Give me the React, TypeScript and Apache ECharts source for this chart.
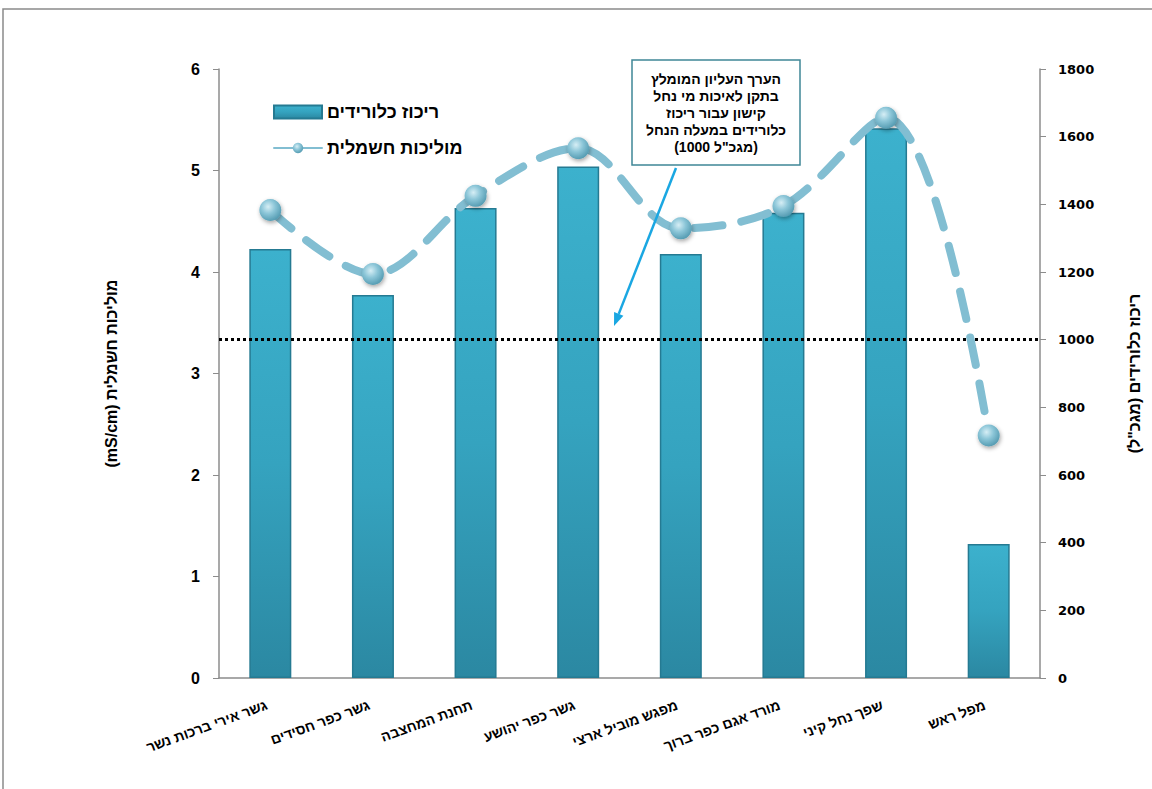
import React, { useEffect, useRef } from "react";
import * as echarts from "echarts";

const categories = [
  "גשר אירי ברכות נשר",
  "גשר כפר חסידים",
  "תחנת המחצבה",
  "גשר כפר יהושע",
  "מפגש מוביל ארצי",
  "מורד אגם כפר ברוך",
  "שפך נחל קיני",
  "מפל ראש",
];
const chloride = [1268, 1132, 1389, 1512, 1253, 1375, 1625, 396];
const conductivity = [4.61, 3.98, 4.75, 5.22, 4.43, 4.65, 5.52, 2.39];
const chlorideLimit = 1000;
const noteLines = [
  "הערך העליון המומלץ",
  "בתקן לאיכות מי נחל",
  "קישון עבור ריכוז",
  "כלורידים במעלה הנחל",
  '\u202A(1000 מגכ"ל)\u202C',
];
const leftTitle = "\u202Bמוליכות חשמלית (mS/cm)\u202C";
const rightTitle = '\u202Bריכוז כלורידים (מגכ"ל)\u202C';

export default function App() {
  const ref = useRef<HTMLDivElement>(null);
  useEffect(() => {
    document.body.style.margin = "0";
    const chart = echarts.init(ref.current!, null, { renderer: "svg" });
    const font = "Arial, 'Liberation Sans', sans-serif";
    // arrow geometry
    const x1 = 676, y1 = 168, x2 = 614, y2 = 326;
    const dx = x2 - x1, dy = y2 - y1;
    const len = Math.sqrt(dx * dx + dy * dy);
    const ux = dx / len, uy = dy / len;
    const bx = x2 - ux * 13, by = y2 - uy * 13;
    const px = -uy * 5, py = ux * 5;
    chart.setOption({
      animation: false,
      backgroundColor: "#ffffff",
      textStyle: { fontFamily: font },
      grid: { left: 219, right: 112, top: 69, bottom: 111 },
      legend: {
        orient: "vertical",
        left: 268,
        top: 98,
        itemWidth: 48,
        itemHeight: 13,
        itemGap: 18,
        textStyle: { fontSize: 18, fontWeight: "bold", color: "#000", fontFamily: font },
        data: [
          { name: "ריכוז כלורידים", icon: "rect" },
          { name: "מוליכות חשמלית", lineStyle: { type: "solid" } },
        ],
      },
      xAxis: {
        type: "category",
        data: categories,
        axisLine: { lineStyle: { color: "#8c8c8c", width: 1.5 } },
        axisTick: { length: 6, lineStyle: { color: "#8c8c8c" } },
        axisLabel: {
          rotate: 20,
          interval: 0,
          fontSize: 14,
          fontWeight: "bold",
          color: "#000",
          margin: 25,
          padding: [0, 4, 0, 0],
          fontFamily: font,
        },
      },
      yAxis: [
        {
          type: "value",
          min: 0,
          max: 6,
          interval: 1,
          position: "left",
          name: leftTitle,
          nameLocation: "middle",
          nameRotate: 90,
          nameGap: 100,
          nameTextStyle: { fontSize: 16, fontWeight: "bold", color: "#000", fontFamily: font },
          axisLine: { show: true, lineStyle: { color: "#8c8c8c", width: 1.5 } },
          axisTick: { show: true, length: 6, lineStyle: { color: "#8c8c8c" } },
          splitLine: { show: false },
          axisLabel: { fontSize: 16, fontWeight: "bold", color: "#000", margin: 19, fontFamily: font },
        },
        {
          type: "value",
          min: 0,
          max: 1800,
          interval: 200,
          position: "right",
          name: rightTitle,
          nameLocation: "middle",
          nameRotate: 90,
          nameGap: 86,
          nameTextStyle: { fontSize: 16, fontWeight: "bold", color: "#000", fontFamily: font },
          axisLine: { show: true, lineStyle: { color: "#8c8c8c", width: 1.5 } },
          axisTick: { show: true, length: 6, lineStyle: { color: "#8c8c8c" } },
          splitLine: { show: false },
          axisLabel: {
            fontSize: 13,
            fontWeight: "bold",
            color: "#000",
            margin: 18,
            formatter: (v: number) => String(v),
            fontFamily: "'DejaVu Sans', Verdana, sans-serif",
          },
        },
      ],
      series: [
        {
          name: "ריכוז כלורידים",
          type: "bar",
          yAxisIndex: 1,
          barWidth: 42,
          data: chloride,
          itemStyle: {
            color: new echarts.graphic.LinearGradient(0, 0, 0, 1, [
              { offset: 0, color: "#3cb1cd" },
              { offset: 0.5, color: "#35a3bf" },
              { offset: 1, color: "#2b88a2" },
            ]),
            borderColor: "#257a92",
            borderWidth: 1.5,
          },
          markLine: {
            silent: true,
            symbol: "none",
            label: { show: false },
            lineStyle: { color: "#000", type: [3, 3], width: 3 },
            data: [{ yAxis: chlorideLimit }],
          },
        },
        {
          name: "מוליכות חשמלית",
          type: "line",
          yAxisIndex: 0,
          data: conductivity,
          smooth: 0.35,
          symbol: "circle",
          symbolSize: 22,
          z: 5,
          lineStyle: {
            color: "#82bed2",
            width: 8,
            type: [28, 19],
            cap: "round",
          },
          itemStyle: {
            color: new echarts.graphic.RadialGradient(0.4, 0.35, 0.7, [
              { offset: 0, color: "#d6eef5" },
              { offset: 0.45, color: "#8cc6d8" },
              { offset: 1, color: "#4f97ae" },
            ]),
            shadowColor: "rgba(0,0,0,0.35)",
            shadowBlur: 4,
            shadowOffsetX: 1,
            shadowOffsetY: 2,
          },
        },
      ],
      graphic: [
        {
          type: "rect",
          shape: { x: 3, y: 9, width: 1170, height: 800 },
          style: { fill: "none", stroke: "#8a8a8a", lineWidth: 1.5 },
          silent: true,
        },
        {
          type: "rect",
          shape: { x: 632, y: 60, width: 168, height: 105 },
          style: { fill: "#ffffff", stroke: "#3f8797", lineWidth: 1.5 },
          z: 10,
        },
        {
          type: "text",
          x: 716,
          y: 70,
          z: 11,
          style: {
            text: noteLines.join("\n"),
            align: "center",
            verticalAlign: "top",
            fontSize: 14,
            fontWeight: "bold",
            lineHeight: 17,
            fill: "#000",
            fontFamily: font,
          },
        },
        {
          type: "line",
          z: 11,
          shape: { x1, y1, x2: bx, y2: by },
          style: { stroke: "#1aa7e2", lineWidth: 2.5 },
        },
        {
          type: "polygon",
          z: 11,
          shape: {
            points: [
              [x2, y2],
              [bx + px, by + py],
              [bx - px, by - py],
            ],
          },
          style: { fill: "#1aa7e2" },
        },
      ],
    });
    return () => chart.dispose();
  }, []);
  return (
    <div
      ref={ref}
      style={{ position: "absolute", left: 0, top: 0, width: 1152, height: 789 }}
    />
  );
}
